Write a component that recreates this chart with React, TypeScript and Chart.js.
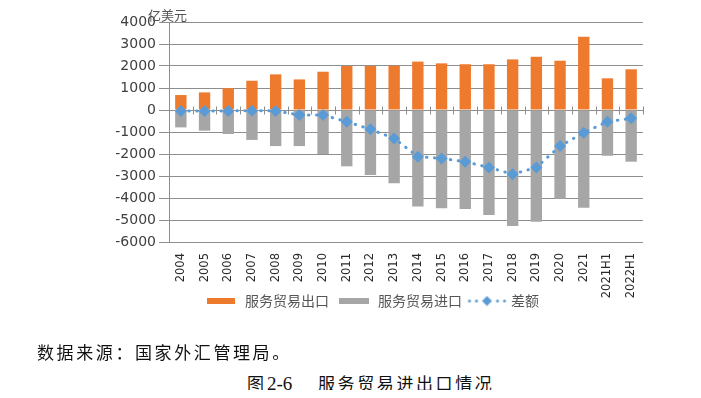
import React, { useEffect, useRef } from "react";
import { Chart, registerables } from "chart.js";

Chart.register(...registerables);

const categories = [
  "2004", "2005", "2006", "2007", "2008", "2009", "2010", "2011", "2012", "2013",
  "2014", "2015", "2016", "2017", "2018", "2019", "2020", "2021", "2021H1", "2022H1",
];
const exportValues = [680, 800, 990, 1330, 1620, 1390, 1740, 2000, 2000, 2010, 2200, 2120, 2080, 2080, 2300, 2420, 2240, 3330, 1440, 1850];
const importValues = [-790, -940, -1090, -1360, -1640, -1640, -2000, -2560, -2950, -3330, -4390, -4470, -4500, -4770, -5270, -5080, -4030, -4440, -2080, -2350];
const balanceValues = [-40, -50, -40, -30, -40, -230, -230, -530, -880, -1290, -2120, -2200, -2350, -2610, -2920, -2610, -1640, -1030, -530, -380];
const yMin = -6000;
const yMax = 4000;
const yStep = 1000;
const seriesNames = ["服务贸易出口", "服务贸易进口", "差额"];
const unitLabel = "亿美元";
const sourceNote = "数据来源：国家外汇管理局。";
const figureNo = "图";
const figureNum = "2-6";
const figureTitle = "服务贸易进出口情况";

const ORANGE = "#ee7a2d";
const GRAY = "#a6a6a6";
const BLUE = "#5b9bd5";
const GRID = "#8e8e8e";
const LEGEND_SHIFT = 26;

function makeRect(color: string, w: number, h: number) {
  const c = document.createElement("canvas");
  c.width = w;
  c.height = h;
  const g = c.getContext("2d")!;
  g.fillStyle = color;
  g.fillRect(0, 0, w, h);
  return c;
}

function makeLineMarker() {
  const c = document.createElement("canvas");
  c.width = 41;
  c.height = 11;
  const g = c.getContext("2d")!;
  g.fillStyle = BLUE;
  [3, 10, 31, 38].forEach((x) => {
    g.beginPath();
    g.arc(x, 5.5, 1.5, 0, Math.PI * 2);
    g.fill();
  });
  g.beginPath();
  g.moveTo(20.5, 0.5);
  g.lineTo(25.5, 5.5);
  g.lineTo(20.5, 10.5);
  g.lineTo(15.5, 5.5);
  g.closePath();
  g.fill();
  return c;
}

const decorPlugin = {
  id: "decor",
  afterLayout(chart: any) {
    const lg = chart.legend;
    if (lg) {
      lg.top -= LEGEND_SHIFT;
      lg.bottom -= LEGEND_SHIFT;
    }
  },
  beforeDatasetsDraw(chart: any) {
    const { ctx, scales } = chart;
    const x = scales.x;
    const y = scales.y;
    const y0 = Math.round(y.getPixelForValue(0)) + 0.5;
    const n = categories.length;
    ctx.save();
    ctx.strokeStyle = GRID;
    ctx.lineWidth = 1;
    ctx.beginPath();
    for (let i = 0; i <= n; i++) {
      let px: number;
      if (i === 0) px = x.left;
      else if (i === n) px = x.right;
      else px = (x.getPixelForValue(i - 1) + x.getPixelForValue(i)) / 2;
      const xx = Math.round(px) + 0.5;
      ctx.moveTo(xx, y0 - 4);
      ctx.lineTo(xx, y0 + 4);
    }
    ctx.stroke();
    ctx.restore();
  },
  afterDraw(chart: any) {
    const { ctx, chartArea } = chart;
    ctx.save();
    ctx.font = '13px "Noto Sans CJK SC"';
    ctx.fillStyle = "#555";
    ctx.textAlign = "left";
    ctx.textBaseline = "middle";
    ctx.fillText(unitLabel, chartArea.left - 21, chartArea.top - 7);
    ctx.restore();
  },
};

export default function App() {
  const canvasRef = useRef<HTMLCanvasElement | null>(null);

  useEffect(() => {
    if (!canvasRef.current) return;
    const legendImages = [makeRect(ORANGE, 28, 6), makeRect(GRAY, 30, 6), makeLineMarker()];
    const chart = new Chart(canvasRef.current, {
      type: "bar",
      data: {
        labels: categories,
        datasets: [
          {
            type: "bar",
            label: seriesNames[0],
            data: exportValues,
            backgroundColor: ORANGE,
            grouped: false,
            barPercentage: 0.48,
            categoryPercentage: 1,
            order: 2,
          } as any,
          {
            type: "bar",
            label: seriesNames[1],
            data: importValues,
            backgroundColor: GRAY,
            grouped: false,
            barPercentage: 0.48,
            categoryPercentage: 1,
            order: 2,
          } as any,
          {
            type: "line",
            label: seriesNames[2],
            data: balanceValues,
            borderColor: BLUE,
            backgroundColor: BLUE,
            borderWidth: 3,
            borderDash: [0.5, 7.5],
            borderCapStyle: "round",
            pointStyle: "rectRot",
            pointRadius: 6,
            pointBorderWidth: 0,
            pointBackgroundColor: BLUE,
            fill: false,
            tension: 0,
            order: 0,
          } as any,
        ],
      },
      options: {
        responsive: false,
        animation: false,
        events: [],
        layout: { padding: { left: 92, right: 50, top: 14, bottom: 0 } },
        plugins: {
          tooltip: { enabled: false },
          legend: {
            position: "bottom",
            labels: {
              usePointStyle: true,
              pointStyleWidth: 34,
              boxHeight: 8,
              padding: 8,
              color: "#555",
              font: { family: "Noto Sans CJK SC", size: 14 },
              sort: (a: any, b: any) => a.datasetIndex - b.datasetIndex,
              generateLabels: (ch: any) => {
                const items = (Chart as any).defaults.plugins.legend.labels.generateLabels(ch);
                return items.map((it: any) => ({ ...it, pointStyle: legendImages[it.datasetIndex] }));
              },
            },
          },
        },
        scales: {
          x: {
            grid: { display: false, drawTicks: false },
            border: { display: false },
            ticks: {
              minRotation: 90,
              maxRotation: 90,
              autoSkip: false,
              padding: 11,
              color: "#2a2a2a",
              font: { family: "DejaVu Sans", size: 11.5 },
            },
            afterFit: (s: any) => {
              s.height = 70;
            },
          },
          y: {
            min: yMin,
            max: yMax,
            ticks: {
              stepSize: yStep,
              color: "#404040",
              padding: 3,
              font: { family: "DejaVu Sans", size: 14 },
              callback: (v: any) => String(v),
            },
            grid: { color: GRID, tickLength: 10, tickColor: GRID },
            border: { display: true, color: GRID },
            afterFit: (s: any) => {
              s.width = 69;
            },
          },
        },
      },
      plugins: [decorPlugin],
    } as any);
    return () => chart.destroy();
  }, []);

  return (
    <div style={{ position: "relative", width: 685, height: 382 }}>
      <canvas ref={canvasRef} width={685} height={336} style={{ display: "block", width: 685, height: 336 }} />
      <div
        style={{
          position: "absolute",
          left: 29,
          top: 334,
          fontFamily: '"Noto Sans CJK SC"',
          fontSize: 17,
          lineHeight: "20px",
          letterSpacing: "2.6px",
          color: "#111",
          whiteSpace: "nowrap",
        }}
      >
        {sourceNote}
      </div>
      <div
        style={{
          position: "absolute",
          left: 239,
          top: 365,
          fontFamily: '"Noto Sans CJK SC"',
          fontSize: 17,
          lineHeight: "20px",
          color: "#111",
          whiteSpace: "nowrap",
        }}
      >
        <span>{figureNo}</span>
        <span style={{ fontFamily: '"Liberation Serif"', fontSize: 19, marginLeft: 3 }}>{figureNum}</span>
      </div>
      <div
        style={{
          position: "absolute",
          left: 310,
          top: 365,
          fontFamily: '"Noto Sans CJK SC"',
          fontSize: 17,
          lineHeight: "20px",
          letterSpacing: "2.6px",
          color: "#111",
          whiteSpace: "nowrap",
        }}
      >
        {figureTitle}
      </div>
    </div>
  );
}
